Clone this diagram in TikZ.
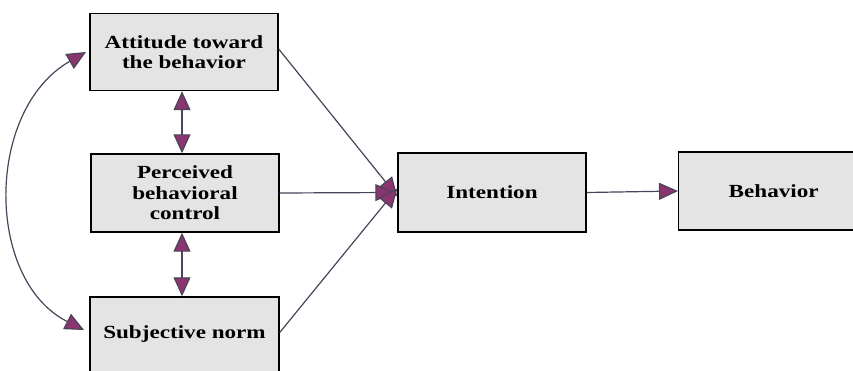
\documentclass[tikz,border=0pt]{standalone}
\usepackage{fontspec}
\setmainfont[FakeStretch=1.25]{Liberation Serif}
\usetikzlibrary{arrows.meta}
\definecolor{boxfill}{HTML}{E4E4E4}
\definecolor{linecol}{HTML}{4A4458}
\definecolor{headcol}{HTML}{8A3470}
\tikzset{
  box/.style={draw=black, line width=1.4pt, fill=boxfill, rectangle, align=center,
    inner sep=0pt, font=\fontsize{18.5}{20.5}\selectfont\bfseries},
  conn/.style={draw=linecol, line width=1.2pt,
    -{Triangle[length=19pt,width=17pt,fill=headcol]}},
  dconn/.style={draw=linecol, line width=1.2pt,
    {Triangle[length=19pt,width=17pt,fill=headcol]}-{Triangle[length=19pt,width=17pt,fill=headcol]}},
}
\begin{document}
\begin{tikzpicture}[x=1pt,y=-1pt]
\useasboundingbox (0,0) rectangle (853,371);
\fill[white] (0,0) rectangle (853,371);
\node[box, minimum width=188pt, minimum height=77pt] (att) at (184,52) {Attitude toward\\the behavior};
\node[box, minimum width=188pt, minimum height=78pt] (pbc) at (185,193) {Perceived\\behavioral\\control};
\node[box, minimum width=189pt, minimum height=75pt] (sn) at (184.5,334.5) {Subjective norm};
\node[box, minimum width=188pt, minimum height=79pt] (int) at (492,192.5) {Intention};
\node[box, minimum width=190pt, minimum height=78pt, anchor=west] (beh) at (678,191) {Behavior};
\draw[conn] ([yshift=3pt]att.east) -- ([yshift=-4pt]int.west);
\draw[conn] (pbc.east) -- ([xshift=-3pt]int.west);
\draw[conn] ([yshift=2pt]sn.east) -- ([yshift=4pt]int.west);
\draw[conn] (int.east) -- (beh.west);
\draw[dconn] ([xshift=-2pt]att.south) -- ([xshift=-3pt]pbc.north);
\draw[dconn] ([xshift=-3pt]pbc.south) -- ([xshift=-2.5pt]sn.north);
\coordinate (ca) at (86,52);
\coordinate (cs) at (84,330);
\draw[dconn] (ca) .. controls (-15,110) and (-15,280) .. (cs);
\end{tikzpicture}
\end{document}
